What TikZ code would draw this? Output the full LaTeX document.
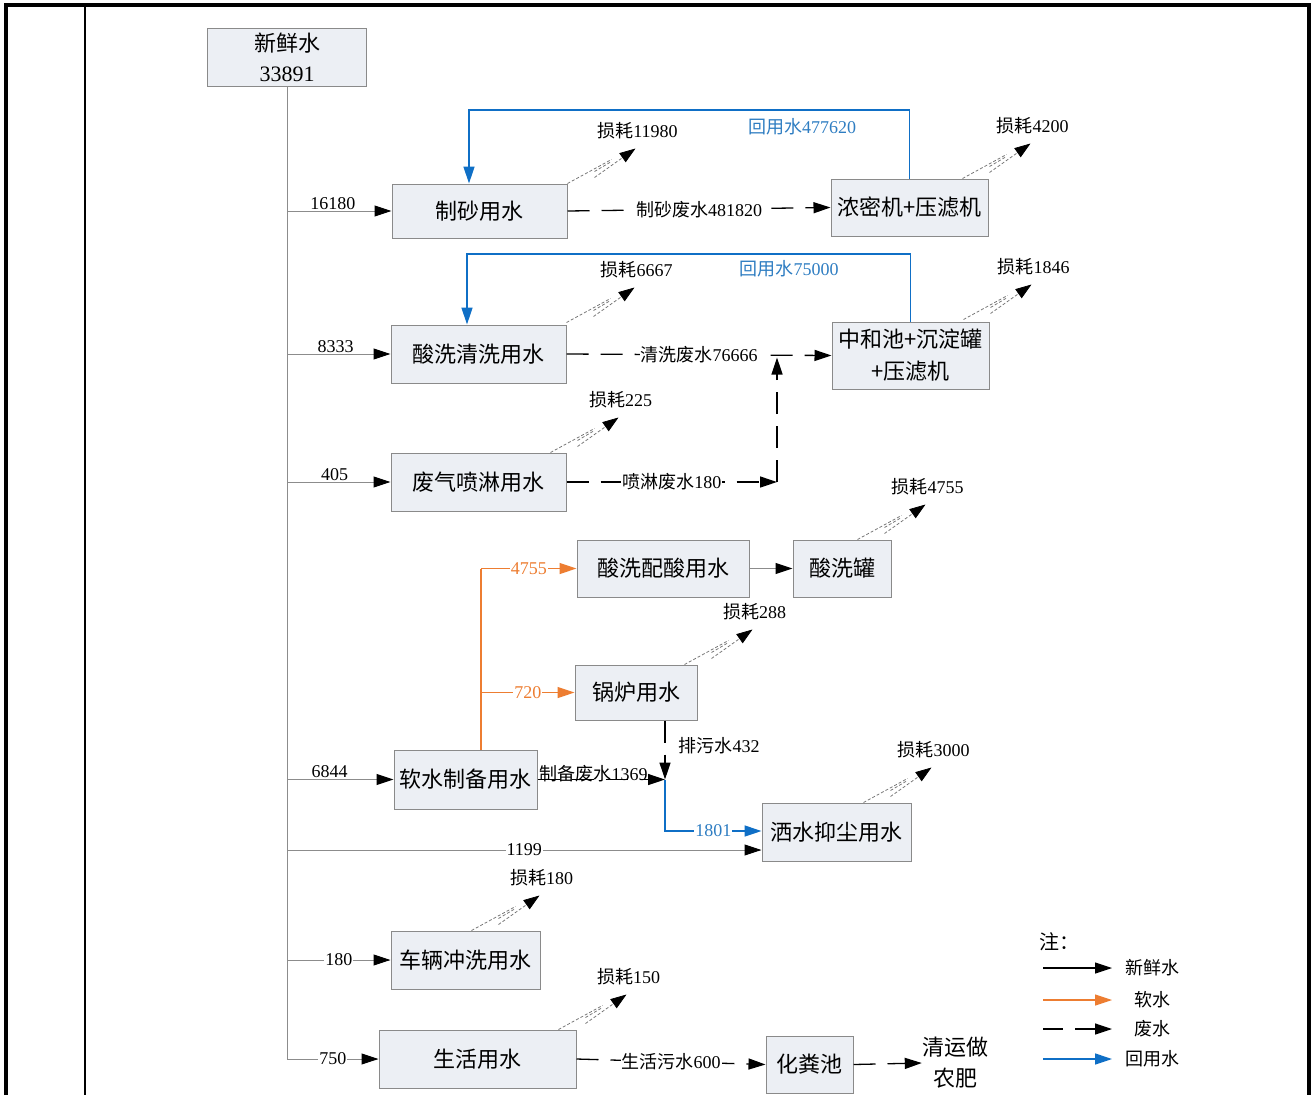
\documentclass[tikz,border=0pt]{standalone}
\usepackage{fontspec}
\setmainfont{Liberation Serif}
\newfontfamily\cjk{Noto Sans CJK SC}
\usetikzlibrary{arrows.meta,calc}
\definecolor{boxfill}{HTML}{ECEFF4}
\definecolor{boxline}{HTML}{8A8A8A}
\definecolor{recblue}{HTML}{0F6FC6}
\definecolor{recblue2}{HTML}{2E7DC2}
\definecolor{softor}{HTML}{ED7D31}
\definecolor{fline}{HTML}{8C8C8C}
\newcommand\z[1]{{\cjk #1}}
\newcommand\lossarrow[2]{%
  \draw[lossl] (#1) -- ++(44,-24);
  \draw[lossl] ($(#1)+(27,-12)$) -- ++(17,-10);
  \draw[lossl,-{Triangle[length=16pt,width=11pt,color=black]}] ($(#1)+(27,-6)$) -- ($(#1)+(68,-35)$);
  \node[lbl] at ($(#1)+(70,-53)$) {#2};
}
\begin{document}
\begin{tikzpicture}[x=1pt,y=-1pt,
  box/.style={draw=boxline, fill=boxfill, line width=1pt, inner sep=0pt, align=center, font=\fontsize{22}{30}\selectfont},
  lbl/.style={font=\fontsize{18}{20}\selectfont, inner sep=1pt},
  arrowtip/.style={-{Triangle[length=17pt,width=11pt,color=black]}},
  freshl/.style={draw=fline, line width=1pt, arrowtip},
  wastel/.style={draw=black, line width=1.3pt, dash pattern=on 22pt off 12pt, arrowtip},
  softl/.style={draw=softor, line width=1.2pt, -{Triangle[length=17pt,width=11pt,color=softor]}},
  recl/.style={draw=recblue, line width=1.4pt, -{Triangle[length=17pt,width=11pt,color=recblue]}},
  lossl/.style={draw=gray!90!black, line width=0.75pt, dash pattern=on 3pt off 2pt},
]
\useasboundingbox (0,0) rectangle (1314,1095);
\fill[white] (0,0) rectangle (1314,1095);
% frame
\draw[line width=4pt] (6,1095) -- (6,5) -- (1309,5) -- (1309,1095);
\draw[line width=1.5pt] (85,5) -- (85,1095);

% boxes
\node[box, minimum width=159pt, minimum height=58pt] (fresh) at (287,57) {\z{新鲜水}\\33891};
\node[box, minimum width=175pt, minimum height=54pt] (zs) at (479.5,211) {\z{制砂用水}};
\node[box, minimum width=157pt, minimum height=57pt] (nm) at (909.5,207.5) {\z{浓密机+压滤机}};
\node[box, minimum width=175pt, minimum height=58pt] (sx) at (478.5,354) {\z{酸洗清洗用水}};
\node[box, minimum width=157pt, minimum height=67pt, font=\fontsize{22}{32}\selectfont] (zh) at (910.5,355.5) {\z{中和池+沉淀罐}\\\z{+压滤机}};
\node[box, minimum width=175pt, minimum height=58pt] (fq) at (478.5,482) {\z{废气喷淋用水}};
\node[box, minimum width=172pt, minimum height=57pt] (pj) at (663,568.5) {\z{酸洗配酸用水}};
\node[box, minimum width=98pt, minimum height=57pt] (sg) at (842,568.5) {\z{酸洗罐}};
\node[box, minimum width=122pt, minimum height=55pt] (gl) at (636,692.5) {\z{锅炉用水}};
\node[box, minimum width=143pt, minimum height=59pt] (rs) at (465.5,779.5) {\z{软水制备用水}};
\node[box, minimum width=149pt, minimum height=58pt] (ss) at (836.5,832) {\z{洒水抑尘用水}};
\node[box, minimum width=149pt, minimum height=58pt] (cl) at (465.5,960) {\z{车辆冲洗用水}};
\node[box, minimum width=197pt, minimum height=58pt] (sh) at (477.5,1059) {\z{生活用水}};
\node[box, minimum width=87pt, minimum height=57pt] (hf) at (809.5,1064.5) {\z{化粪池}};
\node[align=center, inner sep=0pt, font=\fontsize{22}{31}\selectfont] (qy) at (955,1063) {\z{清运做}\\\z{农肥}};

% fresh water trunk and branches
\coordinate (b1) at (287,211);
\coordinate (b2) at (287,354);
\coordinate (b3) at (287,482);
\coordinate (b4) at (287,779.5);
\coordinate (b5) at (287,850);
\coordinate (b6) at (287,960);
\coordinate (b7) at (287,1059);
\draw[draw=fline, line width=1pt] (fresh.south) -- (b7);
\draw[freshl] (b1) -- (zs.west) node[lbl, above, pos=0.44] {16180};
\draw[freshl] (b2) -- (sx.west) node[lbl, above, pos=0.47] {8333};
\draw[freshl] (b3) -- (fq.west) node[lbl, above, pos=0.46] {405};
\draw[freshl] (b4) -- (rs.west) node[lbl, above, pos=0.40] {6844};
\draw[freshl] (b5) -- (b5 -| ss.west) node[lbl, fill=white, pos=0.50] {1199};
\draw[freshl] (b6) -- (cl.west) node[lbl, fill=white, pos=0.50] {180};
\draw[freshl] (b7) -- (sh.west) node[lbl, fill=white, pos=0.50] {750};
\draw[freshl] (pj.east) -- (sg.west);

% recycled water
\coordinate (r1) at (469,110);
\coordinate (r2) at (467,254);
\draw[recl] (nm.north) |- (r1) -- (r1 |- zs.north);
\node[lbl, text=recblue2] (t1) at (802,127) {\z{回用水}477620};
\draw[recl] (zh.north) |- (r2) -- (r2 |- sx.north);
\node[lbl, text=recblue2] (t2) at (789,269) {\z{回用水}75000};

% waste water
\draw[wastel] (zs.east) -- (nm.west) node[lbl, fill=white, midway] {\z{制砂废水}481820};
\draw[wastel] (sx.east) -- (zh.west) node[lbl, fill=white, midway] {\z{清洗废水}76666};
\coordinate (c1) at (777,482);
\draw[wastel] (fq.east) -- (c1) node[lbl, fill=white, pos=0.5] {\z{喷淋废水}180};
\draw[wastel] (c1) -- ($(c1 |- zh.west)+(0,2)$);
\draw[wastel] (sh.east) -- (hf.west) node[lbl, fill=white, midway] {\z{生活污水}600};
\draw[wastel] (hf.east) -- (qy.west);

% soft water
\coordinate (o1) at (481,568.5);
\coordinate (o2) at (481,692.5);
\draw[draw=softor, line width=1.2pt] (o1 |- rs.north) -- (o1);
\draw[softl] (o1) -- (pj.west) node[lbl, fill=white, text=softor, pos=0.5] {4755};
\draw[softl] (o2) -- (gl.west) node[lbl, fill=white, text=softor, pos=0.5] {720};

% boiler and softening waste to dust suppression
\coordinate (j) at (665,779.5);
\coordinate (j2) at (665,831);
\draw[wastel] (gl.south -| j) -- (j) node[lbl, pos=0.42, right=12pt] {\z{排污水}432};
\draw[wastel] (rs.east) -- (j) node[lbl, pos=0.44, above, inner sep=0pt, yshift=-3pt] {\z{制备废水}1369};
\draw[recl] (j) -- (j2) -- node[lbl, fill=white, text=recblue2, pos=0.5] {1801} (j2 -| ss.west);

% losses
\lossarrow{zs.north east}{\z{损耗}11980}
\lossarrow{$(nm.north east)+(-26,0)$}{\z{损耗}4200}
\lossarrow{$(sx.north east)+(0,-2)$}{\z{损耗}6667}
\lossarrow{$(zh.north east)+(-26,-2)$}{\z{损耗}1846}
\lossarrow{$(fq.north east)+(-16,0)$}{\z{损耗}225}
\lossarrow{$(sg.north east)+(-34,0)$}{\z{损耗}4755}
\lossarrow{$(gl.north east)+(-13,0)$}{\z{损耗}288}
\lossarrow{$(ss.north east)+(-48,0)$}{\z{损耗}3000}
\lossarrow{$(cl.north east)+(-69,0)$}{\z{损耗}180}
\lossarrow{$(sh.north east)+(-18,0)$}{\z{损耗}150}

% legend
\node[font=\fontsize{20}{22}\selectfont, inner sep=0pt] (note) at (1059,942) {\z{注：}};
\coordinate (la1) at (1043,968);   \coordinate (lb1) at (1112,968);
\coordinate (la2) at (1043,1000);  \coordinate (lb2) at (1112,1000);
\coordinate (la3) at (1043,1029);  \coordinate (lb3) at (1112,1029);
\coordinate (la4) at (1043,1059);  \coordinate (lb4) at (1112,1059);
\draw[draw=black, line width=1.2pt, arrowtip] (la1) -- (lb1);
\draw[softl] (la2) -- (lb2);
\draw[draw=black, line width=1.3pt, dash pattern=on 20pt off 12pt, arrowtip] (la3) -- (lb3);
\draw[recl] (la4) -- (lb4);
\node[lbl] (lt1) at (1152,968) {\z{新鲜水}};
\node[lbl] (lt2) at (1152,1000) {\z{软水}};
\node[lbl] (lt3) at (1152,1029) {\z{废水}};
\node[lbl] (lt4) at (1152,1059) {\z{回用水}};
\end{tikzpicture}
\end{document}
